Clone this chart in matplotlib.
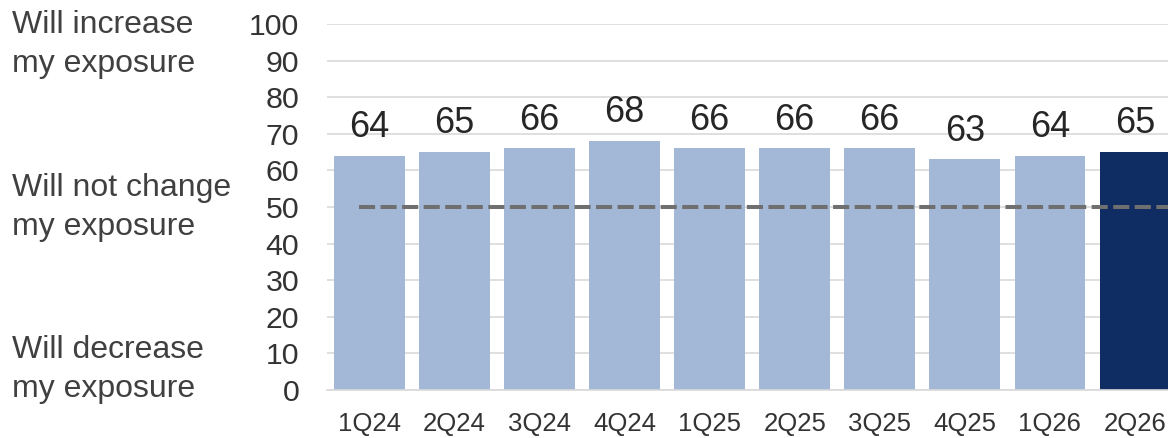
import matplotlib
matplotlib.use("Agg")
import matplotlib.pyplot as plt

# Survey results by quarter
quarters = ["1Q24", "2Q24", "3Q24", "4Q24", "1Q25", "2Q25", "3Q25", "4Q25", "1Q26", "2Q26"]
scores = [64, 65, 66, 68, 66, 66, 66, 63, 64, 65]
neutral_level = 50
y_ticks = [0, 10, 20, 30, 40, 50, 60, 70, 80, 90, 100]

# Side annotations describing the scale
scale_labels = ["Will increase\nmy exposure", "Will not change\nmy exposure", "Will decrease\nmy exposure"]

light_blue = "#A3B8D6"
navy = "#102D63"
grid_gray = "#D9D9D9"
tick_gray = "#333333"
text_gray = "#404040"

plt.rcParams["font.family"] = ["Liberation Sans", "DejaVu Sans"]

W, H = 1168, 438
fig = plt.figure(figsize=(W / 100, H / 100), dpi=100)
ax = fig.add_axes([327 / W, 48 / H, 1 - 327 / W, (414 - 48) / H])

x = list(range(len(quarters)))
colors = [light_blue] * (len(quarters) - 1) + [navy]
ax.bar(x, scores, width=0.83, color=colors, zorder=2)

for xi, v in zip(x, scores):
    ax.annotate(f"{v}", (xi, v), xytext=(0, 13.5), textcoords="offset points",
                ha="center", va="baseline", fontsize=26, color="#262626")

ax.plot([-0.12, 9.6], [neutral_level, neutral_level], color="#6F6F6F", lw=2.9,
        dashes=(4, 1.35), zorder=3, dash_capstyle="butt")

ax.set_xlim(-0.5, 9.39)
ax.set_ylim(0, 100)
ax.set_yticks(y_ticks)
ax.set_xticks(x)
ax.set_xticklabels(quarters)
ax.tick_params(axis="y", length=0, pad=20, labelsize=21.8, labelcolor=tick_gray)
ax.tick_params(axis="x", length=0, pad=16, labelsize=18.5, labelcolor=tick_gray)
ax.grid(axis="y", color=grid_gray, lw=1.2, zorder=0)
ax.set_axisbelow(True)
for s in ["top", "right", "left"]:
    ax.spines[s].set_visible(False)
ax.spines["bottom"].set_color(grid_gray)
ax.spines["bottom"].set_linewidth(1.2)

# last-line baselines of the side annotations, in pixels from the top
side_baselines = [71.8, 235, 396.5]
for lab, base in zip(scale_labels, side_baselines):
    fig.text(12 / W, 1 - base / H, lab, ha="left", va="baseline",
             fontsize=23, color=text_gray, linespacing=1.38)

fig.savefig("out.png", dpi=100)
